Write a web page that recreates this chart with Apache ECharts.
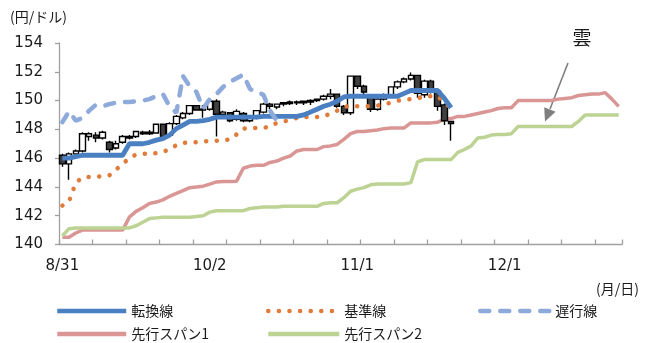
<!DOCTYPE html>
<html>
<head>
<meta charset="utf-8">
<script src="https://cdn.jsdelivr.net/npm/echarts@6/dist/echarts.min.js"></script>
<style>html,body{margin:0;padding:0;background:#fff}#c{width:658px;height:343px}</style>
</head>
<body>
<div id="c"></div>
<script>
const categories = ["8/31","9/1","9/4","9/5","9/6","9/7","9/8","9/11","9/12","9/13","9/14","9/15","9/18","9/19","9/20","9/21","9/22","9/25","9/26","9/27","9/28","9/29",
"10/2","10/3","10/4","10/5","10/6","10/9","10/10","10/11","10/12","10/13","10/16","10/17","10/18","10/19","10/20","10/23","10/24","10/25","10/26","10/27","10/30","10/31",
"11/1","11/2","11/3","11/6","11/7","11/8","11/9","11/10","11/13","11/14","11/15","11/16","11/17","11/20","11/21","11/22","11/23","11/24","11/27","11/28","11/29","11/30",
"12/1","12/4","12/5","12/6","12/7","12/8","12/11","12/12","12/13","12/14","12/15","12/18","12/19","12/20","12/21","12/22","12/25","12/26"];
const shownLabels = ["8/31","10/2","11/1","12/1"];
const yTicks = [140,142,144,146,148,150,152,154];

const opens  = [146.2,145.6,146.3,146.5,147.5,147.6,147.4,147.1,146.7,147.1,147.4,147.5,147.8,147.7,147.75,148.35,147.6,148.4,148.8,149.1,149.65,149.35,149.4,149.95,149.05,149.15,148.7,149.1,148.6,148.8,149.2,149.75,149.55,149.75,149.8,149.9,149.85,149.9,150.0,150.1,150.3,150.45,149.6,149.15,151.7,151.0,150.3,149.4,150.1,150.4,150.95,151.3,151.5,151.75,150.4,151.35,150.65,149.7,148.55];
const closes = [145.6,146.3,146.5,147.7,147.7,147.4,147.8,146.6,147.0,147.5,147.5,147.85,147.7,147.8,148.35,147.5,148.4,148.9,149.1,149.65,149.35,149.4,149.95,149.05,149.2,148.6,149.25,148.6,148.8,149.3,149.75,149.6,149.75,149.85,149.9,149.85,149.95,150.0,150.1,150.3,150.45,149.6,149.15,151.7,151.0,150.6,149.4,150.1,150.4,150.95,151.3,151.5,151.75,150.5,151.35,150.65,149.6,148.6,148.4];
const lows   = [145.4,144.5,146.2,146.4,147.2,147.1,147.3,146.4,146.6,147.0,147.3,147.4,147.6,147.6,147.7,147.4,147.5,148.3,148.7,149.0,149.3,148.8,149.3,147.5,148.9,148.5,148.6,148.5,148.5,148.7,149.1,149.4,149.4,149.6,149.7,149.7,149.7,149.7,149.9,150.0,150.1,149.5,149.0,149.0,150.8,150.2,149.2,149.3,150.0,150.3,150.8,151.2,151.4,150.2,150.2,150.5,149.3,148.3,147.2];
const highs  = [146.3,146.4,146.6,147.8,147.8,147.8,147.9,147.2,147.2,147.6,147.6,147.9,147.9,147.95,148.4,148.4,148.5,149.0,149.2,149.7,149.7,149.7,150.0,150.1,149.3,149.2,149.4,149.2,149.0,149.35,149.85,149.85,149.8,149.9,150.0,150.0,150.0,150.1,150.15,150.4,150.8,150.5,149.7,151.75,151.75,151.1,150.4,150.2,150.5,151.0,151.4,151.6,151.95,151.8,151.45,151.45,150.7,149.8,148.6];

const tenkan = [146.0,146.0,146.1,146.2,146.2,146.2,146.2,146.2,146.2,146.2,147.0,147.0,147.0,147.1,147.25,147.35,147.6,148.05,148.3,148.55,148.55,148.6,148.7,148.85,148.85,148.85,148.85,148.85,148.85,148.85,148.9,148.9,148.9,148.9,148.9,148.9,149.0,149.2,149.4,149.6,149.75,149.95,150.25,150.3,150.3,150.3,150.3,150.3,150.3,150.3,150.3,150.5,150.7,150.7,150.7,150.7,150.7,150.15,149.5];
const kijun  = [142.7,143.0,144.3,144.65,144.7,144.7,144.75,144.8,145.2,145.6,146.0,146.25,146.3,146.3,146.35,146.45,146.6,146.9,147.05,147.1,147.1,147.15,147.2,147.2,147.25,147.3,147.65,148.05,148.1,148.1,148.1,148.2,148.45,148.55,148.65,148.8,148.85,148.85,148.85,148.9,149.1,149.3,149.55,149.65,149.6,149.6,149.6,149.65,149.75,149.85,150.0,150.05,150.1,150.15,150.3,150.3,150.3,149.85,149.5];
const chikou = [148.5,149.25,148.6,148.8,149.3,149.7,149.6,149.75,149.85,149.9,149.9,149.95,150.0,150.1,150.3,150.45,149.6,149.15,151.7,151.0,150.6,149.45,150.1,150.45,150.95,151.3,151.55,151.8,150.8,150.6,150.4,149.3,148.6,148.4];
const span1  = [140.5,140.5,140.8,141.0,141.0,141.0,141.0,141.0,141.0,141.0,141.9,142.3,142.55,142.85,142.95,143.1,143.35,143.55,143.75,143.95,144.0,144.05,144.2,144.35,144.37,144.37,144.4,145.3,145.45,145.5,145.5,145.7,145.8,146.0,146.15,146.5,146.6,146.6,146.6,146.8,146.85,146.95,147.3,147.7,147.85,147.85,147.9,147.95,148.05,148.1,148.1,148.1,148.45,148.45,148.45,148.45,148.5,148.7,148.75,148.9,148.9,149.0,149.1,149.2,149.3,149.45,149.5,149.5,150.0,150.0,150.0,150.0,150.0,150.0,150.1,150.15,150.2,150.35,150.4,150.45,150.45,150.55,150.1,149.6];
const span2  = [140.6,141.1,141.15,141.15,141.15,141.15,141.15,141.15,141.15,141.15,141.15,141.3,141.55,141.8,141.85,141.9,141.9,141.9,141.9,141.9,141.95,142.0,142.25,142.35,142.35,142.35,142.35,142.35,142.5,142.55,142.6,142.6,142.6,142.65,142.65,142.65,142.65,142.65,142.65,142.85,142.9,142.9,143.25,143.7,143.85,143.95,144.15,144.2,144.2,144.2,144.2,144.2,144.3,145.75,145.9,145.9,145.9,145.9,145.9,146.4,146.6,146.85,147.4,147.45,147.6,147.65,147.65,147.7,148.2,148.2,148.2,148.2,148.2,148.2,148.2,148.2,148.2,148.55,149.0,149.0,149.0,149.0,149.0,149.0];

const names = ["転換線","基準線","遅行線","先行スパン1","先行スパン2"];
const candleData = opens.map((o, i) => [o, closes[i], lows[i], highs[i]]);

const numFont = "'DejaVu Sans', Verdana, sans-serif";
const jpFont = "'Noto Sans CJK JP', sans-serif";
const axisGray = '#a0a0a0';

function legendAt(name, left, top, w) {
  return {
    data: [name], left: left, top: top, itemWidth: w, itemHeight: 14, padding: 0,
    selectedMode: false,
    itemStyle: { color: 'rgba(0,0,0,0)', borderColor: 'rgba(0,0,0,0)', borderWidth: 0 },
    lineStyle: { width: 4.5 },
    textStyle: { fontSize: 14, fontFamily: jpFont, color: '#1a1a1a', padding: [0,0,0,0] }
  };
}

const chart = echarts.init(document.getElementById('c'), null, { renderer: 'canvas' });
chart.setOption({
  animation: false,
  backgroundColor: '#fff',
  grid: { left: 59, top: 43, right: 36, bottom: 98.5 },
  legend: [
    legendAt(names[0], 55, 304, 69),
    legendAt(names[1], 266, 304, 71),
    legendAt(names[2], 478, 304, 70),
    legendAt(names[3], 55, 327, 69),
    legendAt(names[4], 266, 327, 71)
  ],
  xAxis: {
    type: 'category', data: categories, boundaryGap: true,
    axisLine: { lineStyle: { color: axisGray, width: 1.3 } },
    axisTick: { show: true, inside: true, length: 5, lineStyle: { color: axisGray, width: 1.3 },
      interval: (idx) => idx % 5 === 0 },
    axisLabel: { interval: (idx, val) => shownLabels.indexOf(val) >= 0, margin: 14,
      fontSize: 15, fontFamily: numFont, color: '#1a1a1a' },
    splitLine: { show: false }
  },
  yAxis: {
    type: 'value', min: yTicks[0], max: yTicks[yTicks.length - 1], interval: 2,
    axisLine: { show: true, lineStyle: { color: axisGray, width: 1.3 } },
    axisTick: { show: true, length: 4, lineStyle: { color: axisGray, width: 1.3 } },
    axisLabel: { margin: 16, fontSize: 15, fontFamily: numFont, color: '#1a1a1a' },
    splitLine: { show: false }
  },
  graphic: [
    { type: 'text', x: 10, y: 17, style: { text: '(円/ドル)', fontSize: 14, fontFamily: jpFont, fill: '#1a1a1a', align: 'left', verticalAlign: 'middle' } },
    { type: 'text', x: 596, y: 289, style: { text: '(月/日)', fontSize: 14, fontFamily: jpFont, fill: '#1a1a1a', align: 'left', verticalAlign: 'middle' } },
    { type: 'text', x: 582, y: 38, style: { text: '雲', fontSize: 19, fontFamily: jpFont, fill: '#1a1a1a', align: 'center', verticalAlign: 'middle' } },
    { type: 'line', shape: { x1: 568, y1: 63, x2: 550, y2: 109 }, style: { stroke: '#7f7f7f', lineWidth: 1.6 } },
    { type: 'polygon', shape: { points: [[545, 121.5], [555.6, 111.8], [544.2, 107.2]] }, style: { fill: '#7f7f7f' } }
  ],
  series: [
    { name: names[3], type: 'line', data: span1, symbol: 'none', z: 2,
      lineStyle: { color: '#d99694', width: 3.5 }, itemStyle: { color: '#d99694' } },
    { name: names[4], type: 'line', data: span2, symbol: 'none', z: 2,
      lineStyle: { color: '#bcd394', width: 3.5 }, itemStyle: { color: '#bcd394' } },
    { name: 'ローソク足', type: 'candlestick', data: candleData, barWidth: 6, z: 3,
      itemStyle: { color: '#ffffff', color0: '#404040', borderColor: '#000000', borderColor0: '#000000', borderColorDoji: '#000000', borderWidth: 1.4 } },
    { name: names[1], type: 'line', data: kijun, symbol: 'none', z: 4,
      lineStyle: { color: '#e07b39', width: 4.5, type: [0.1, 10.5], cap: 'round' }, itemStyle: { color: '#e07b39' } },
    { name: names[0], type: 'line', data: tenkan, symbol: 'none', z: 5,
      lineStyle: { color: '#4a7fc1', width: 4.8 }, itemStyle: { color: '#4a7fc1' } },
    { name: names[2], type: 'line', data: chikou, symbol: 'none', z: 6,
      lineStyle: { color: '#8eaadb', width: 4.5, type: [9, 11], cap: 'round' }, itemStyle: { color: '#8eaadb' } }
  ]
});
</script>
</body>
</html>
